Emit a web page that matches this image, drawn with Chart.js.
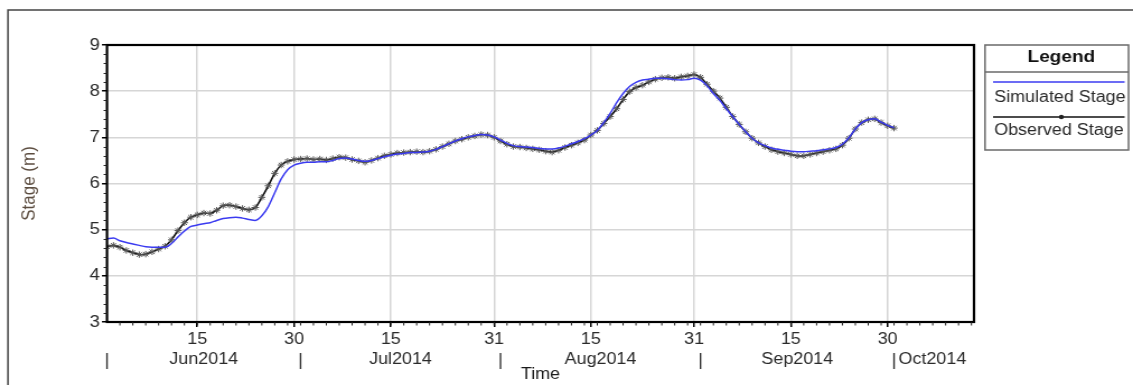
<!DOCTYPE html>
<html>
<head>
<meta charset="utf-8">
<style>
  html, body { margin: 0; padding: 0; background: #fff; overflow: hidden; }
  #wrap {
    position: absolute; left: 0; top: 0;
    width: 1012px; height: 385px;
    transform: scaleX(1.11957); transform-origin: 0 0;
  }
</style>
<script src="https://cdn.jsdelivr.net/npm/chart.js@4.4.1/dist/chart.umd.min.js"></script>
</head>
<body>
<div id="wrap"><canvas id="c"></canvas></div>
<script>
// Daily stage values (m), day 0 = 1 Jun 2014
const simulatedStage = [
  4.80, 4.82, 4.76, 4.72, 4.69, 4.66, 4.63, 4.62, 4.62, 4.62,
  4.70, 4.84, 4.97, 5.07, 5.10, 5.13, 5.15, 5.20, 5.24, 5.26,
  5.27, 5.25, 5.22, 5.20, 5.30, 5.50, 5.80, 6.10, 6.30, 6.40,
  6.44, 6.46, 6.46, 6.47, 6.47, 6.50, 6.54, 6.55, 6.53, 6.50,
  6.48, 6.50, 6.54, 6.58, 6.61, 6.64, 6.65, 6.67, 6.67, 6.68,
  6.70, 6.74, 6.80, 6.86, 6.92, 6.97, 7.01, 7.04, 7.06, 7.05,
  7.01, 6.94, 6.87, 6.82, 6.80, 6.79, 6.78, 6.76, 6.75, 6.75,
  6.77, 6.81, 6.86, 6.91, 6.97, 7.05, 7.15, 7.32, 7.52, 7.75,
  7.95, 8.10, 8.19, 8.24, 8.26, 8.28, 8.28, 8.27, 8.25, 8.24,
  8.25, 8.28, 8.24, 8.12, 7.95, 7.80, 7.62, 7.45, 7.28, 7.12,
  6.98, 6.88, 6.82, 6.77, 6.74, 6.72, 6.70, 6.69, 6.69, 6.70,
  6.71, 6.73, 6.75, 6.78, 6.85, 6.99, 7.18, 7.32, 7.38, 7.40,
  7.33, 7.26, 7.21
];
const observedStage = [
  4.63, 4.66, 4.62, 4.55, 4.50, 4.46, 4.47, 4.52, 4.58, 4.64,
  4.78, 4.98, 5.15, 5.27, 5.32, 5.36, 5.35, 5.42, 5.52, 5.53,
  5.50, 5.46, 5.43, 5.48, 5.70, 5.95, 6.22, 6.40, 6.48, 6.52,
  6.53, 6.54, 6.52, 6.53, 6.51, 6.54, 6.57, 6.56, 6.52, 6.49,
  6.46, 6.50, 6.55, 6.60, 6.63, 6.66, 6.67, 6.68, 6.69, 6.68,
  6.70, 6.74, 6.80, 6.86, 6.92, 6.96, 7.00, 7.03, 7.06, 7.05,
  7.00, 6.92, 6.85, 6.80, 6.79, 6.77, 6.75, 6.73, 6.70, 6.68,
  6.72, 6.78, 6.83, 6.88, 6.94, 7.05, 7.15, 7.30, 7.45, 7.62,
  7.82, 7.99, 8.08, 8.13, 8.20, 8.26, 8.29, 8.30, 8.28, 8.31,
  8.33, 8.36, 8.30, 8.15, 8.00, 7.85, 7.65, 7.45, 7.28, 7.12,
  6.98, 6.88, 6.80, 6.73, 6.69, 6.66, 6.63, 6.60, 6.60, 6.63,
  6.66, 6.69, 6.72, 6.75, 6.83, 6.98, 7.18, 7.32, 7.38, 7.40,
  7.32, 7.25, 7.20
];

// Day-of-month ticks on the time axis
const tickDays = [14, 29, 44, 60, 75, 91, 106, 121];
const tickLabels = ['15', '30', '15', '31', '15', '31', '15', '30'];

// Month row under the day ticks
const monthStarts = [0, 30, 61, 92, 122];
const monthLabels = ['Jun2014', 'Jul2014', 'Aug2014', 'Sep2014', 'Oct2014'];

const yTicks = [3, 4, 5, 6, 7, 8, 9];
const seriesNames = ['Simulated Stage', 'Observed Stage'];

const FONT = '"Liberation Sans", Arial, Helvetica, sans-serif';
const TXT = 16;
Chart.defaults.font.family = FONT;
Chart.defaults.color = '#2a2a2a';

const toPoints = arr => arr.map((v, i) => ({ x: i, y: v }));

const decor = {
  id: 'decor',
  afterDatasetsDraw(chart) {
    const { ctx, chartArea: a } = chart;
    ctx.save();
    ctx.strokeStyle = '#000';
    ctx.lineWidth = 2.2;
    ctx.strokeRect(a.left, a.top, a.right - a.left, a.bottom - a.top);
    ctx.restore();
  },
  afterDraw(chart) {
    const { ctx, chartArea: a } = chart;
    const xs = chart.scales.x, ys = chart.scales.y;
    ctx.save();

    // minor ticks
    ctx.strokeStyle = '#222';
    ctx.lineWidth = 1;
    ctx.beginPath();
    for (let v = 3.2; v < 9; v += 0.2) {
      if (Math.abs(v - Math.round(v)) < 0.01) continue;
      const y = Math.round(ys.getPixelForValue(v)) + 0.5;
      ctx.moveTo(a.left - 3, y); ctx.lineTo(a.left, y);
    }
    for (let d = 2; d < xs.max; d += 2) {
      const x = xs.getPixelForValue(d);
      ctx.moveTo(x, a.bottom); ctx.lineTo(x, a.bottom + 3.5);
    }
    ctx.stroke();

    // month row
    ctx.fillStyle = '#2a2a2a';
    ctx.font = TXT + 'px ' + FONT;
    ctx.textBaseline = 'alphabetic';
    ctx.strokeStyle = '#333';
    ctx.lineWidth = 1.4;
    monthStarts.forEach((d, i) => {
      const x = xs.getPixelForValue(d);
      ctx.beginPath();
      ctx.moveTo(x, 353); ctx.lineTo(x, 369);
      ctx.stroke();
      if (i < monthStarts.length - 1) {
        const mid = xs.getPixelForValue((d + monthStarts[i + 1]) / 2);
        ctx.textAlign = 'center';
        ctx.fillText(monthLabels[i], mid, 364);
      } else {
        ctx.textAlign = 'left';
        ctx.fillText(monthLabels[i], x + 4, 364);
      }
    });

    // legend box
    const L = 879.8, R = 1008, T = 45, B = 150;
    ctx.strokeStyle = '#6a6a6a';
    ctx.lineWidth = 1.5;
    ctx.strokeRect(L, T, R - L, B - T);
    ctx.beginPath();
    ctx.moveTo(L, 72); ctx.lineTo(R, 72);
    ctx.stroke();
    ctx.fillStyle = '#111';
    ctx.font = 'bold 17px ' + FONT;
    ctx.textAlign = 'center';
    ctx.fillText('Legend', 948, 62);

    const lx0 = 887, lx1 = 1004.5;
    ctx.strokeStyle = '#3b3bf0';
    ctx.lineWidth = 1.5;
    ctx.beginPath(); ctx.moveTo(lx0, 82); ctx.lineTo(lx1, 82); ctx.stroke();
    ctx.strokeStyle = '#111';
    ctx.beginPath(); ctx.moveTo(lx0, 117); ctx.lineTo(lx1, 117); ctx.stroke();
    ctx.fillStyle = '#222';
    ctx.beginPath(); ctx.arc(948, 117, 2.2, 0, Math.PI * 2); ctx.fill();

    ctx.fillStyle = '#2a2a2a';
    ctx.font = TXT + 'px ' + FONT;
    ctx.textAlign = 'left';
    ctx.fillText(seriesNames[0], 888, 102);
    ctx.fillText(seriesNames[1], 888, 135);

    // outer figure border
    ctx.strokeStyle = '#444';
    ctx.lineWidth = 1.5;
    ctx.beginPath();
    ctx.moveTo(7.1, 385); ctx.lineTo(7.1, 10); ctx.lineTo(1012, 10);
    ctx.stroke();

    ctx.restore();
  }
};

new Chart(document.getElementById('c'), {
  type: 'line',
  data: {
    datasets: [
      {
        label: seriesNames[0],
        data: toPoints(simulatedStage),
        borderColor: '#3b3bf0',
        borderWidth: 1.5,
        pointRadius: 0,
        cubicInterpolationMode: 'monotone',
        fill: false
      },
      {
        label: seriesNames[1],
        data: toPoints(observedStage),
        borderColor: '#111',
        borderWidth: 1.6,
        pointStyle: 'star',
        pointRadius: 3.2,
        pointBorderColor: '#555',
        pointBorderWidth: 1,
        pointBackgroundColor: '#555',
        tension: 0.25,
        fill: false
      }
    ]
  },
  options: {
    responsive: true,
    maintainAspectRatio: false,
    animation: false,
    events: [],
    layout: { padding: { left: 0, top: 45, right: 142, bottom: 0 } },
    plugins: { legend: { display: false }, tooltip: { enabled: false } },
    scales: {
      x: {
        type: 'linear',
        min: 0,
        max: 134.4,
        afterFit(s) { s.height = 63; },
        afterBuildTicks(s) { s.ticks = tickDays.map(v => ({ value: v })); },
        ticks: {
          autoSkip: false,
          maxRotation: 0,
          padding: 3,
          color: '#2a2a2a',
          font: { size: TXT },
          callback: (v, i) => tickLabels[i]
        },
        grid: {
          color: '#d6d6d6',
          lineWidth: 1.5,
          tickColor: '#000',
          tickLength: 5,
          tickWidth: 1.5
        },
        border: { display: false },
        title: {
          display: true,
          text: 'Time',
          color: '#1a1a1a',
          font: { size: TXT },
          padding: { top: 0, bottom: 1 }
        }
      },
      y: {
        min: 3,
        max: 9,
        afterFit(s) { s.width = 95.57; },
        afterBuildTicks(s) { s.ticks = yTicks.map(v => ({ value: v })); },
        ticks: {
          padding: 2,
          color: '#2a2a2a',
          font: { size: 16.5 }
        },
        grid: {
          color: '#d6d6d6',
          lineWidth: 1.5,
          tickColor: '#000',
          tickLength: 4.5,
          tickWidth: 1.5
        },
        border: { display: false },
        title: {
          display: true,
          text: 'Stage (m)',
          color: '#5c4d40',
          font: { size: 17 },
          padding: { top: 16.5, bottom: 0 }
        }
      }
    }
  },
  plugins: [decor]
});
</script>
</body>
</html>
